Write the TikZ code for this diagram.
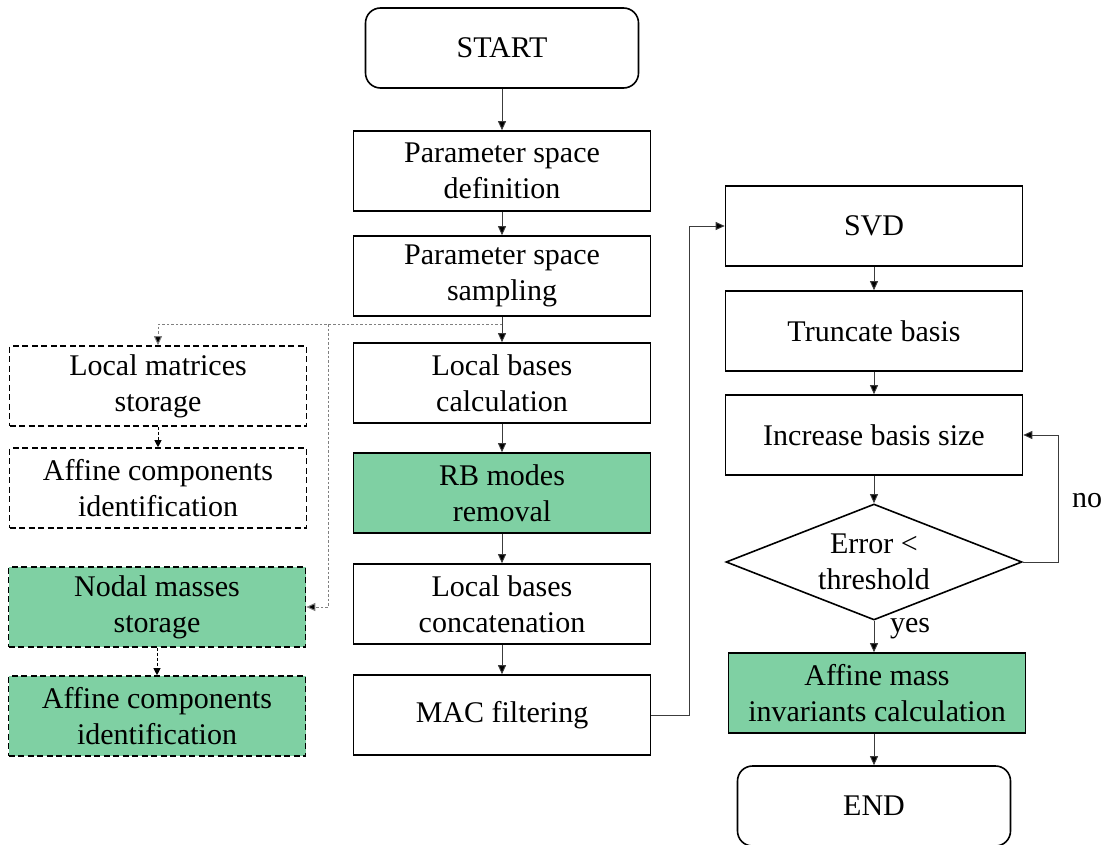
\documentclass[tikz,border=0pt]{standalone}
\usepackage{fontspec}
\setmainfont{Liberation Serif}
\usetikzlibrary{arrows.meta,shapes.geometric}
\definecolor{boxgreen}{RGB}{127,208,163}
\definecolor{linegray}{RGB}{60,60,60}
\tikzset{
  stepbox/.style={draw=black, line width=1.6pt, minimum width=297pt, minimum height=80pt,
    inner sep=0pt, align=center, font=\fontsize{30}{36}\selectfont},
  greenbox/.style={stepbox, fill=boxgreen},
  dashbox/.style={stepbox, dash pattern=on 6pt off 3.5pt},
  termbox/.style={stepbox, rounded corners=15pt, minimum width=273pt},
  decbox/.style={draw=black, line width=1.6pt, diamond, shape aspect=2.55, minimum width=296pt,
    minimum height=116pt, inner sep=0pt, align=center, font=\fontsize{30}{36}\selectfont},
  flow/.style={draw=linegray, line width=0.9pt, -{Triangle[length=9pt,width=8pt,fill=black]}},
  dotflow/.style={draw=gray, line width=1pt, dash pattern=on 2.5pt off 2pt, -{Triangle[length=9pt,width=8pt,fill=black]}},
  dashflow/.style={draw=black, line width=0.9pt, dash pattern=on 3pt off 2pt, -{Triangle[length=7pt,width=7pt]}},
  lbl/.style={font=\fontsize{30}{36}\selectfont, inner sep=0pt}
}
\begin{document}
\begin{tikzpicture}[x=1pt,y=-1pt]
\useasboundingbox (0,0) rectangle (1106,845);
% centre column
\node[termbox] (start) at (502,48) {START};
\node[stepbox] (def) at (502,171) {Parameter space\\definition};
\node[stepbox] (samp) at (502,276) {Parameter space\\sampling};
\node[stepbox] (lbc) at (502,383) {Local bases\\calculation};
\node[greenbox] (rbm) at (502,493) {RB modes\\removal};
\node[stepbox] (lbcon) at (502,604) {Local bases\\concatenation};
\node[stepbox] (mac) at (502,715) {MAC filtering};
% left column
\node[dashbox] (lms) at (158,386) {Local matrices\\storage};
\node[dashbox] (aci) at (158,488) {Affine components\\identification};
\node[dashbox, fill=boxgreen] (nms) at (157,607) {Nodal masses\\storage};
\node[dashbox, fill=boxgreen] (acig) at (157,716) {Affine components\\identification};
% right column
\node[stepbox] (svd) at (874,226) {SVD};
\node[stepbox] (trb) at (874,331) {Truncate basis};
\node[stepbox] (inc) at (874,435) {Increase basis size};
\node[decbox] (dec) at (874,562) {Error <\\threshold};
\node[greenbox] (ami) at (877,693) {Affine mass\\invariants calculation};
\node[termbox] (end) at (874,806) {END};
% labels
\node[lbl] (no) at (1087,501) {no};
\node[lbl] (yes) at (910,629) {yes};
% main flow
\draw[flow] (start) -- (def);
\draw[flow] (def) -- (samp);
\draw[flow] (samp) -- (lbc);
\draw[flow] (lbc) -- (rbm);
\draw[flow] (rbm) -- (lbcon);
\draw[flow] (lbcon) -- (mac);
\draw[flow] (mac.east) -- ++(38,0) |- (svd.west);
\draw[flow] (svd) -- (trb);
\draw[flow] (trb) -- (inc);
\draw[flow] (inc) -- (dec);
\draw[flow] (dec.south) -- (dec.south |- ami.north);
\draw[flow] (ami.south -| end.north) -- (end.north);
\draw[flow] (dec.east) -- ++(36,0) |- (inc.east);
% dotted branches
\coordinate (j1) at (502,324);
\coordinate (j2) at (328,324);
\draw[dotflow] (j1) -| (lms.north);
\draw[dotflow] (j2) |- (nms.east);
\draw[dashflow] (lms) -- (aci);
\draw[dashflow] (nms) -- (acig);
\end{tikzpicture}
\end{document}
